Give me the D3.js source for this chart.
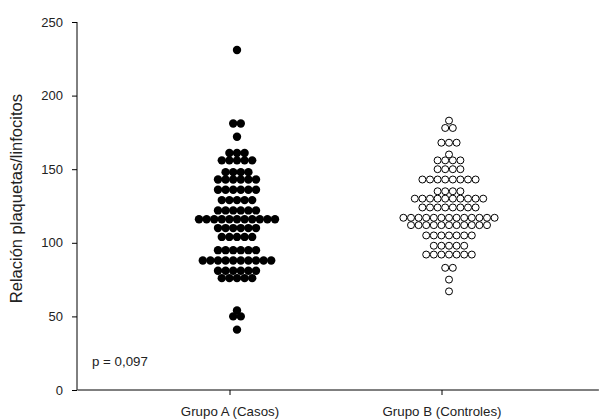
<!doctype html>
<html>
<head>
<meta charset="utf-8">
<script src="https://cdn.jsdelivr.net/npm/d3@7"></script>
<style>
  body { margin: 0; background: #fff; }
  svg { font-family: "Liberation Sans", Arial, sans-serif; }
</style>
</head>
<body>
<svg width="605" height="419"></svg>
<script>
// categories and tick labels
const grupos = ["Grupo A (Casos)", "Grupo B (Controles)"];
const yTicks = [0, 50, 100, 150, 200, 250];

// one value per patient
const casos = [
  231,
  181, 181,
  172,
  161, 161, 161,
  156, 156, 156, 156, 156,
  148, 148, 148, 148,
  143, 143, 143, 143, 143, 143,
  136, 136, 136, 136, 136, 136,
  129, 129, 129, 129, 129,
  122, 122, 122, 122, 122, 122,
  116, 116, 116, 116, 116, 116, 116, 116, 116, 116, 116,
  110, 110, 110, 110, 110, 110,
  104, 104, 104, 104, 104,
  95, 95, 95, 95, 95, 95,
  88, 88, 88, 88, 88, 88, 88, 88, 88, 88,
  81, 81, 81, 81, 81, 81,
  76, 76, 76, 76, 76,
  54,
  50, 50,
  41
];
const controles = [
  183,
  178, 178,
  168, 168, 168,
  160,
  156, 156, 156, 156,
  150, 150, 150, 150,
  143, 143, 143, 143, 143, 143, 143, 143,
  135, 135, 135, 135,
  130, 130, 130, 130, 130, 130, 130, 130, 130, 130,
  124, 124, 124, 124, 124, 124, 124, 124,
  117, 117, 117, 117, 117, 117, 117, 117, 117, 117, 117, 117, 117,
  112, 112, 112, 112, 112, 112, 112, 112, 112, 112, 112,
  105, 105, 105, 105, 105, 105, 105,
  98, 98, 98, 98, 98,
  92, 92, 92, 92, 92, 92, 92,
  83, 83,
  75,
  67
];
const pTexto = "p = 0,097";

const svg = d3.select("svg");

const y = d3.scaleLinear().domain([0, 250]).range([390, 22]);
const x = d3.scaleLinear().domain([1, 2]).range([230, 442]);
const xLimits = [0.28, 2.74];
const dotShift = 7;   // dots sit a little right of the tick
const step = 7.6;     // centre distance between dots in a row

// spread equal values sideways
function swarm(values, g) {
  const rows = d3.groups(values, d => d);
  const out = [];
  rows.forEach(([v, arr]) => {
    const n = arr.length;
    arr.forEach((_, i) => {
      out.push({ v: v, cx: x(g) + dotShift + (i - (n - 1) / 2) * step });
    });
  });
  return out;
}

// y axis
const yAxis = svg.append("g")
  .attr("transform", "translate(77,0)")
  .call(d3.axisLeft(y).tickValues(yTicks).tickSize(5).tickPadding(9).tickFormat(d3.format("d")));
yAxis.select(".domain").attr("stroke", "#000").attr("d", "M0," + y(250) + "V" + y(0));
yAxis.selectAll("text").attr("font-size", 13).attr("fill", "#222").attr("font-family", "Liberation Sans, Arial, sans-serif");

// x axis
svg.append("line")
  .attr("x1", x(xLimits[0])).attr("x2", x(xLimits[1]))
  .attr("y1", y(0)).attr("y2", y(0))
  .attr("stroke", "#000");
svg.selectAll(".xtick")
  .data(grupos)
  .enter().append("line")
  .attr("x1", (d, i) => x(i + 1)).attr("x2", (d, i) => x(i + 1))
  .attr("y1", y(0)).attr("y2", y(0) + 5)
  .attr("stroke", "#000");
svg.selectAll(".xlab")
  .data(grupos)
  .enter().append("text")
  .attr("x", (d, i) => x(i + 1))
  .attr("y", y(0) + 26)
  .attr("text-anchor", "middle")
  .attr("font-size", 13.3)
  .attr("fill", "#222")
  .text(d => d);

// y title
svg.append("text")
  .attr("transform", "translate(22," + y(130) + ") rotate(-90)")
  .attr("text-anchor", "middle")
  .attr("font-size", 16.5)
  .attr("fill", "#222")
  .text("Relación plaquetas/linfocitos");

// p value
svg.append("text")
  .attr("x", 92).attr("y", 366)
  .attr("font-size", 13.3)
  .attr("fill", "#222")
  .text(pTexto);

// Grupo A: filled dots
svg.append("g").selectAll("circle")
  .data(swarm(casos, 1))
  .enter().append("circle")
  .attr("cx", d => d.cx)
  .attr("cy", d => y(d.v))
  .attr("r", 4.2)
  .attr("fill", "#000");

// Grupo B: open dots
svg.append("g").selectAll("circle")
  .data(swarm(controles, 2))
  .enter().append("circle")
  .attr("cx", d => d.cx)
  .attr("cy", d => y(d.v))
  .attr("r", 3.5)
  .attr("fill", "#fff")
  .attr("stroke", "#000")
  .attr("stroke-width", 1);
</script>
</body>
</html>
